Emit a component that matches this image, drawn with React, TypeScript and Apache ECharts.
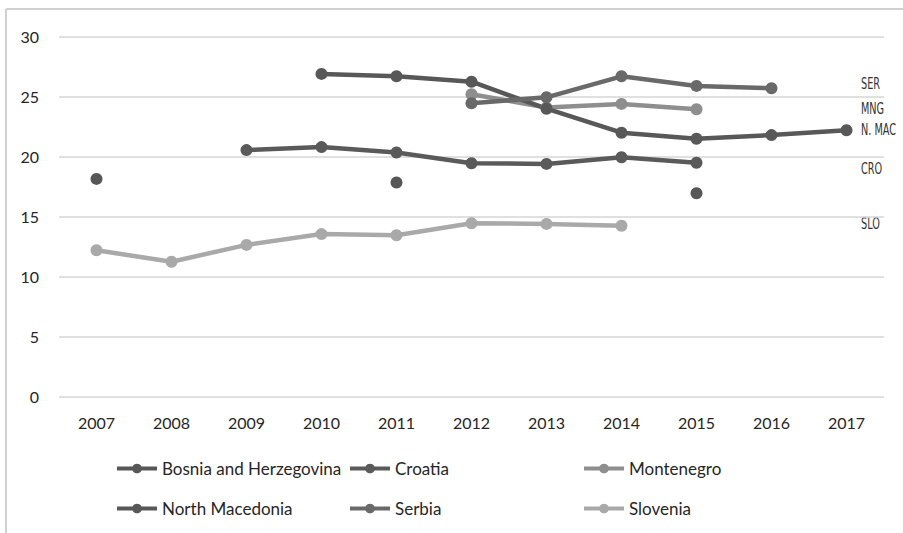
import React, { useEffect, useRef } from "react";
import * as echarts from "echarts";

const years = ["2007", "2008", "2009", "2010", "2011", "2012", "2013", "2014", "2015", "2016", "2017"];
const bosnia = [18.15, null, null, null, 17.85, null, null, null, 16.95, null, null];
const croatia = [null, null, 20.55, 20.8, 20.35, 19.45, 19.4, 19.95, 19.5, null, null];
const montenegro = [null, null, null, null, null, 25.2, 24.1, 24.4, 23.95, null, null];
const northMacedonia = [null, null, null, 26.9, 26.7, 26.25, 24.0, 22.0, 21.5, 21.8, 22.2];
const serbia = [null, null, null, null, null, 24.45, 24.95, 26.7, 25.9, 25.7, null];
const slovenia = [12.2, 11.25, 12.65, 13.55, 13.45, 14.45, 14.4, 14.25, null, null, null];

const seriesNames = ["Bosnia and Herzegovina", "Croatia", "Montenegro", "North Macedonia", "Serbia", "Slovenia"];
const seriesData = [bosnia, croatia, montenegro, northMacedonia, serbia, slovenia];
const seriesColors = ["#575757", "#5a5a5a", "#8e8e8e", "#585858", "#696969", "#a9a9a9"];

const sideLabels = ["SER", "MNG", "N. MAC", "CRO", "SLO"];
const sideLabelY = [84, 109, 130, 169, 224];

export default function App() {
  const ref = useRef<HTMLDivElement>(null);
  useEffect(() => {
    document.body.style.margin = "0";
    const chart = echarts.init(ref.current!, null, { renderer: "svg" });
    const font = "Lato, 'Open Sans', sans-serif";
    const legendLeft = [115, 348, 582];
    const legendTop = [460, 500];
    chart.setOption({
      animation: false,
      backgroundColor: "#ffffff",
      grid: { left: 59, right: 19, top: 36.7, bottom: 136.3 },
      xAxis: {
        type: "category",
        data: years,
        boundaryGap: true,
        axisLine: { show: false },
        axisTick: { show: false },
        axisLabel: { color: "#262626", fontSize: 16, fontFamily: font, margin: 18 },
      },
      yAxis: {
        type: "value",
        min: 0,
        max: 30,
        interval: 5,
        axisLine: { show: false },
        axisTick: { show: false },
        axisLabel: { color: "#262626", fontSize: 16, fontFamily: font, margin: 20 },
        splitLine: { lineStyle: { color: "#d6d6d6", width: 1.5 } },
      },
      legend: seriesNames.map((n, i) => ({
        data: [n],
        left: legendLeft[i % 3],
        top: legendTop[Math.floor(i / 3)],
        padding: 0,
        itemWidth: 40,
        itemHeight: 12,
        lineStyle: { width: 4 },
        textStyle: { color: "#262626", fontSize: 17, fontFamily: font },
        selectedMode: false,
      })),
      series: seriesNames.map((n, i) => ({
        name: n,
        type: "line",
        data: seriesData[i],
        connectNulls: false,
        symbol: "circle",
        symbolSize: 12,
        showSymbol: true,
        color: seriesColors[i],
        lineStyle: { width: 4.5, color: seriesColors[i] },
        itemStyle: { color: seriesColors[i] },
      })),
      graphic: [
        { type: "line", shape: { x1: 6, y1: 9, x2: 903, y2: 9 }, style: { stroke: "#d0d0d0", lineWidth: 2 } },
        { type: "line", shape: { x1: 6, y1: 9, x2: 6, y2: 533 }, style: { stroke: "#d0d0d0", lineWidth: 2 } },
        ...sideLabels.map((t, i) => ({
          type: "text",
          x: 861,
          y: sideLabelY[i],
          scaleX: 0.72,
          style: {
            text: t,
            fill: "#333333",
            fontSize: 15,
            fontFamily: "'Liberation Sans Narrow', 'DejaVu Sans Condensed', sans-serif",
            verticalAlign: "middle",
            align: "left",
          },
        })),
      ],
    });
    return () => chart.dispose();
  }, []);
  return <div ref={ref} style={{ width: 903, height: 533 }} />;
}
